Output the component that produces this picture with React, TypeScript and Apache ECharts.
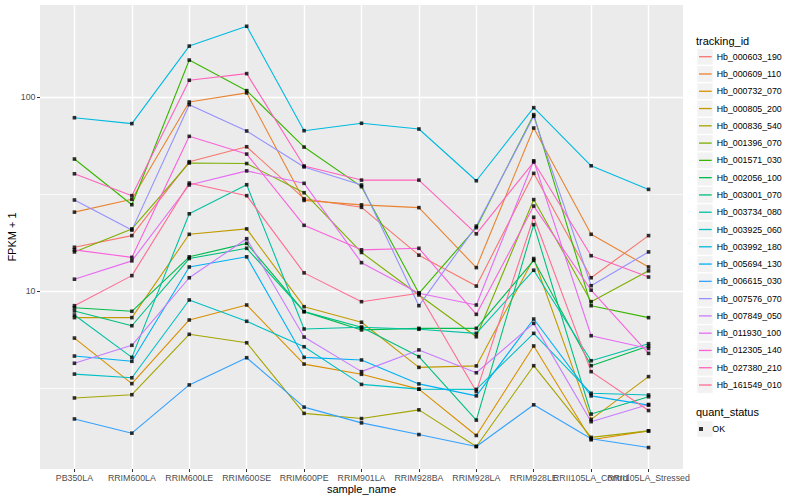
import React, { useEffect, useRef } from "react";
import * as echarts from "echarts";

const FONT = "'Liberation Sans', Arial, Helvetica, sans-serif";

const categories = [
  "PB350LA",
  "RRIM600LA",
  "RRIM600LE",
  "RRIM600SE",
  "RRIM600PE",
  "RRIM901LA",
  "RRIM928BA",
  "RRIM928LA",
  "RRIM928LE",
  "RRII105LA_Control",
  "RRII105LA_Stressed",
];

const trackingIds = [
  "Hb_000603_190",
  "Hb_000609_110",
  "Hb_000732_070",
  "Hb_000805_200",
  "Hb_000836_540",
  "Hb_001396_070",
  "Hb_001571_030",
  "Hb_002056_100",
  "Hb_003001_070",
  "Hb_003734_080",
  "Hb_003925_060",
  "Hb_003992_180",
  "Hb_005694_130",
  "Hb_006615_030",
  "Hb_007576_070",
  "Hb_007849_050",
  "Hb_011930_100",
  "Hb_012305_140",
  "Hb_027380_210",
  "Hb_161549_010",
];

const lineColors = [
  "#F8766D", "#EA8331", "#D89000", "#C09B00", "#A3A500",
  "#7CAE00", "#39B600", "#00BB4E", "#00BF7D", "#00C1A3",
  "#00BFC4", "#00BAE0", "#00B0F6", "#35A2FF", "#9590FF",
  "#C77CFF", "#E76BF3", "#FA62DB", "#FF62BC", "#FF6C91",
];

// FPKM + 1 per sample (same order as categories)
const hb_000603_190 = [16.8, 19.3, 46.4, 55.4, 29.9, 27.0, 15.3, 10.6, 40.4, 11.7, 19.3];
const hb_000609_110 = [25.5, 29.7, 94.2, 105, 29.3, 27.8, 26.9, 13.2, 69.2, 19.6, 13.3];
const hb_000732_070 = [5.72, 3.33, 7.09, 8.47, 4.2, 3.72, 3.12, 1.8, 5.21, 1.71, 1.9];
const hb_000805_200 = [7.29, 7.29, 19.6, 20.9, 8.3, 6.9, 4.04, 4.11, 14.7, 2.18, 3.62];
const hb_000836_540 = [2.81, 2.92, 5.98, 5.41, 2.34, 2.2, 2.44, 1.58, 4.12, 1.76, 1.9];
const hb_001396_070 = [15.9, 20.9, 45.7, 45.4, 32.1, 15.8, 9.54, 5.81, 29.6, 8.81, 12.7];
const hb_001571_030 = [47.9, 27.85, 155, 107.8, 55.2, 34.5, 9.73, 21.2, 81.1, 8.4, 7.29];
const hb_002056_100 = [8.2, 7.86, 15.0, 17.6, 7.83, 6.3, 6.42, 6.42, 14.4, 4.12, 5.2];
const hb_003001_070 = [7.89, 6.62, 14.7, 16.6, 7.83, 6.5, 4.59, 2.16, 22.0, 2.32, 2.85];
const hb_003734_080 = [7.52, 4.55, 25.0, 35.3, 6.37, 6.5, 6.35, 6.05, 12.8, 4.37, 5.35];
const hb_003925_060 = [3.73, 3.57, 8.99, 6.98, 5.16, 3.3, 3.12, 3.11, 6.05, 2.97, 2.91];
const hb_003992_180 = [78.2, 72.9, 183, 231.5, 67.05, 73.2, 68.4, 37.0, 88.1, 44.2, 33.4];
const hb_005694_130 = [4.62, 4.34, 13.3, 15.0, 4.55, 4.41, 3.32, 2.88, 7.17, 2.88, 2.58];
const hb_006615_030 = [2.19, 1.85, 3.28, 4.53, 2.52, 2.09, 1.82, 1.58, 2.59, 1.73, 1.56];
const hb_007576_070 = [29.45, 20.6, 91.3, 66.8, 43.6, 35.2, 8.4, 21.6, 79.5, 10.65, 15.9];
const hb_007849_050 = [4.24, 5.25, 11.7, 18.6, 5.79, 3.84, 4.97, 3.79, 6.81, 2.12, 2.6];
const hb_011930_100 = [11.5, 14.3, 35.2, 41.6, 35.9, 14.0, 9.73, 8.47, 46.9, 5.88, 5.05];
const hb_012305_140 = [16.3, 14.9, 62.7, 50.8, 21.8, 16.3, 16.6, 7.58, 27.4, 10.1, 4.77];
const hb_027380_210 = [40.2, 31.0, 122, 132, 44.1, 37.3, 37.3, 19.7, 46.2, 15.2, 11.8];
const hb_161549_010 = [8.4, 12.0, 36.0, 31.0, 12.4, 8.81, 9.73, 3.03, 24.0, 3.84, 2.42];

const seriesValues = [
  hb_000603_190, hb_000609_110, hb_000732_070, hb_000805_200, hb_000836_540,
  hb_001396_070, hb_001571_030, hb_002056_100, hb_003001_070, hb_003734_080,
  hb_003925_060, hb_003992_180, hb_005694_130, hb_006615_030, hb_007576_070,
  hb_007849_050, hb_011930_100, hb_012305_140, hb_027380_210, hb_161549_010,
];

const quantStatus = ["OK"];
const yTickValues = [10, 100];

// layout constants (pixels)
const PANEL_LEFT = 40;
const PANEL_TOP = 5;
const PANEL_W = 643;
const PANEL_H = 464;
const DECADE_PX = 194;
const LOG_MAX = 2.4742;
const LOG_MIN = LOG_MAX - PANEL_H / DECADE_PX;
const CAT_UNIT = PANEL_W / (categories.length - 1 + 1.2);
const LEG_FIRST = 56.7;
const LEG_STEP = 17.28;

export default function App() {
  const ref = useRef<HTMLDivElement>(null);

  useEffect(() => {
    document.body.style.margin = "0";
    const chart = echarts.init(ref.current!, null, { renderer: "svg" });

    const lineSeries = trackingIds.map((name, i) => ({
      name,
      type: "line",
      xAxisIndex: 1,
      yAxisIndex: 2,
      data: seriesValues[i].map((v) => Math.log10(v)),
      color: lineColors[i],
      symbol: "none",
      showSymbol: false,
      lineStyle: { width: 1.1, color: lineColors[i] },
      itemStyle: { color: lineColors[i] },
      silent: true,
      z: 2,
    }));

    const points: number[][] = [];
    seriesValues.forEach((vals) =>
      vals.forEach((v, j) => points.push([j, Math.log10(v)]))
    );

    const keyBoxes = trackingIds.map((_, k) => ({
      type: "rect",
      z: -1,
      shape: { x: 697.3, y: LEG_FIRST + k * LEG_STEP - 7.9, width: 15.4, height: 15.8 },
      style: { fill: "#F2F2F2" },
      silent: true,
    }));

    const grid0Top = PANEL_TOP - (2.5 - LOG_MAX) * DECADE_PX;
    const catLeft = PANEL_LEFT + 0.6 * CAT_UNIT;
    const catWidth = CAT_UNIT * (categories.length - 1);

    const option: any = {
      animation: false,
      textStyle: { fontFamily: FONT },
      grid: [
        {
          left: PANEL_LEFT,
          top: grid0Top,
          width: PANEL_W,
          height: 2.5 * DECADE_PX,
          containLabel: false,
          outerBoundsMode: "none",
        },
        {
          left: catLeft,
          top: PANEL_TOP,
          width: catWidth,
          height: PANEL_H,
          containLabel: false,
          outerBoundsMode: "none",
        },
      ],
      xAxis: [
        { gridIndex: 0, type: "value", min: 0, max: 1, show: false },
        {
          gridIndex: 1,
          type: "category",
          data: categories,
          boundaryGap: false,
          axisLine: { show: false },
          axisTick: { show: true, length: 3, lineStyle: { color: "#333333", width: 1 } },
          axisLabel: {
            interval: 0,
            hideOverlap: false,
            color: "#4D4D4D",
            fontSize: 8.8,
            fontFamily: FONT,
            margin: 4,
          },
          splitLine: { show: true, lineStyle: { color: "#FFFFFF", width: 1.4 } },
        },
      ],
      yAxis: [
        {
          gridIndex: 0,
          type: "value",
          min: 0,
          max: 2.5,
          interval: 0.5,
          axisLine: { show: false },
          axisTick: { show: false },
          axisLabel: { show: false },
          splitLine: { show: true, lineStyle: { color: "#FFFFFF", width: 0.7 } },
        },
        {
          gridIndex: 0,
          type: "value",
          position: "left",
          min: 0,
          max: 2.5,
          interval: 1,
          axisLine: { show: false },
          axisTick: {
            show: true,
            length: 3,
            customValues: yTickValues.map((v) => Math.log10(v)),
            lineStyle: { color: "#333333", width: 1 },
          },
          axisLabel: {
            show: true,
            customValues: yTickValues.map((v) => Math.log10(v)),
            formatter: (v: number) => String(Math.round(Math.pow(10, v))),
            color: "#4D4D4D",
            fontSize: 8.8,
            fontFamily: FONT,
            margin: 4.5,
          },
          splitLine: { show: true, lineStyle: { color: "#FFFFFF", width: 1.4 } },
        },
        { gridIndex: 1, type: "value", min: LOG_MIN, max: LOG_MAX, show: false },
      ],
      legend: [
        {
          data: trackingIds,
          orient: "vertical",
          left: 699,
          top: LEG_FIRST - 6,
          padding: 0,
          itemGap: LEG_STEP - 12,
          itemWidth: 12.7,
          itemHeight: 1.3,
          icon: "rect",
          selectedMode: false,
          textStyle: { fontSize: 8.8, color: "#000000", fontFamily: FONT, lineHeight: 12 },
        },
        {
          data: quantStatus,
          orient: "vertical",
          left: 699,
          top: 429 - 6,
          padding: 0,
          itemWidth: 12.7,
          itemHeight: 4,
          icon: "path://M0,0h4v4h-4z",
          selectedMode: false,
          textStyle: { fontSize: 8.8, color: "#000000", fontFamily: FONT, lineHeight: 12 },
        },
      ],
      graphic: {
        elements: [
          {
            type: "rect",
            z: -1,
            silent: true,
            shape: { x: PANEL_LEFT, y: PANEL_TOP, width: PANEL_W, height: PANEL_H },
            style: { fill: "#EBEBEB" },
          },
          ...keyBoxes,
          {
            type: "rect",
            z: -1,
            silent: true,
            shape: { x: 697.3, y: 429 - 7.9, width: 15.4, height: 15.8 },
            style: { fill: "#F2F2F2" },
          },
          {
            type: "text",
            z: 10,
            x: 12,
            y: PANEL_TOP + PANEL_H / 2,
            rotation: Math.PI / 2,
            style: {
              text: "FPKM + 1",
              fontSize: 11,
              fontFamily: FONT,
              fill: "#000000",
              align: "center",
              verticalAlign: "middle",
            },
          },
          {
            type: "text",
            z: 10,
            x: PANEL_LEFT + PANEL_W / 2,
            y: 488.5,
            style: {
              text: "sample_name",
              fontSize: 11,
              fontFamily: FONT,
              fill: "#000000",
              align: "center",
              verticalAlign: "middle",
            },
          },
          {
            type: "text",
            z: 10,
            x: 696,
            y: 40.7,
            style: {
              text: "tracking_id",
              fontSize: 11,
              fontFamily: FONT,
              fill: "#000000",
              align: "left",
              verticalAlign: "middle",
            },
          },
          {
            type: "text",
            z: 10,
            x: 696,
            y: 412,
            style: {
              text: "quant_status",
              fontSize: 11,
              fontFamily: FONT,
              fill: "#000000",
              align: "left",
              verticalAlign: "middle",
            },
          },
        ],
      },
      series: [
        ...lineSeries,
        {
          name: "OK",
          type: "scatter",
          xAxisIndex: 1,
          yAxisIndex: 2,
          data: points,
          symbol: "rect",
          symbolSize: 3.6,
          itemStyle: { color: "#000000" },
          silent: true,
          z: 3,
        },
      ],
    };

    chart.setOption(option);
    return () => chart.dispose();
  }, []);

  return <div ref={ref} style={{ width: 800, height: 500 }} />;
}
